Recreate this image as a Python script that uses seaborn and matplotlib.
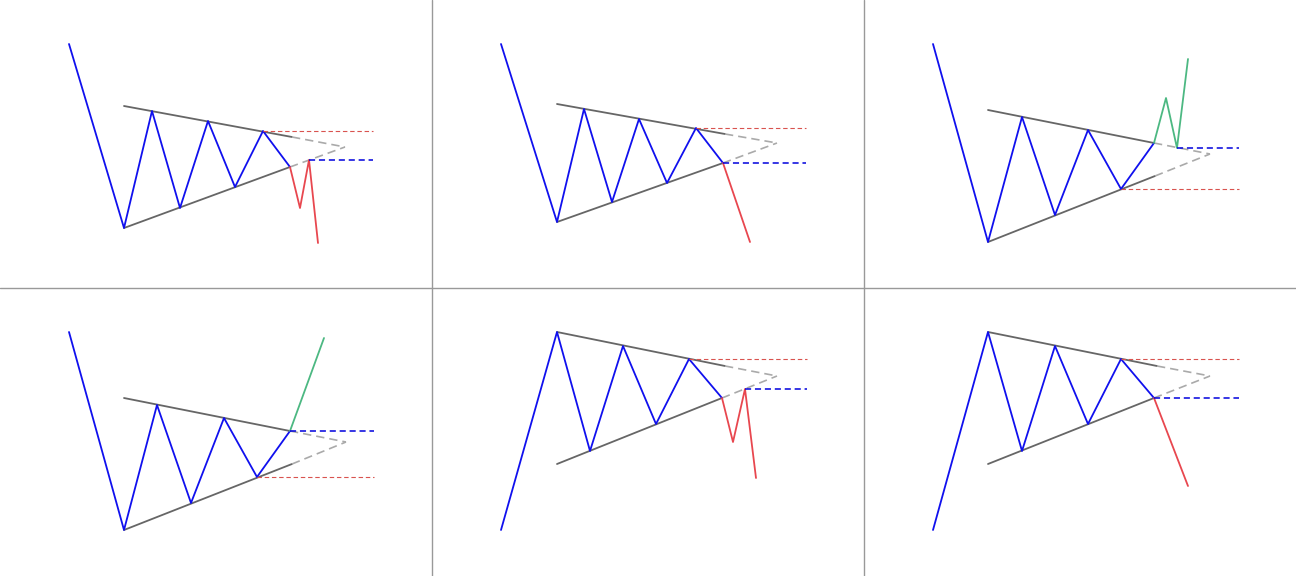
import matplotlib
matplotlib.use("Agg")
import matplotlib.pyplot as plt
import seaborn as sns

# colours
BLUE = "#1010ee"
RED = "#e8474f"
GREEN = "#4cb882"
TREND = "#666666"
EXT = "#aaaaaa"

# panel 1: descending into triangle, breakdown with retest
p1_x = [69, 124, 152, 180, 208, 235, 263, 290]
p1_y = [244, 60, 177, 80, 167, 101, 157, 121]
p1_brk_x = [290, 300, 309, 318]
p1_brk_y = [121, 80, 128, 45]
p1_up_x = [124, 292, 345]
p1_up_y = [182, 151, 141]
p1_lo_x = [124, 290, 345]
p1_lo_y = [60, 121, 141]

# panel 2: breakdown, no retest
p2_x = [69, 125, 152, 180, 207, 235, 264, 291]
p2_y = [244, 66, 179, 86, 169, 105, 160, 125]
p2_brk_x = [291, 318]
p2_brk_y = [125, 46]
p2_up_x = [125, 293, 345]
p2_up_y = [184, 154, 145]
p2_lo_x = [125, 291, 345]
p2_lo_y = [66, 125, 145]

# panel 3: breakout up with retest
p3_x = [69, 124, 158, 191, 224, 257, 290]
p3_y = [244, 46, 171, 73, 158, 99, 145]
p3_brk_x = [290, 302, 313, 324]
p3_brk_y = [145, 190, 140, 229]
p3_up_x = [124, 290, 346]
p3_up_y = [178, 145, 134]
p3_lo_x = [124, 291, 346]
p3_lo_y = [46, 112, 134]

# panel 4: breakout up, no retest
p4_x = [69, 124, 157, 191, 224, 257, 290]
p4_y = [244, 46, 171, 73, 158, 99, 145]
p4_brk_x = [290, 324]
p4_brk_y = [145, 238]
p4_up_x = [124, 290, 346]
p4_up_y = [178, 145, 134]
p4_lo_x = [124, 292, 346]
p4_lo_y = [46, 112, 134]

# panel 5: rising into triangle, breakdown with retest
p5_x = [69, 125, 158, 191, 224, 257, 290]
p5_y = [46, 244, 125, 230, 152, 217, 178]
p5_brk_x = [290, 301, 313, 324]
p5_brk_y = [178, 134, 187, 98]
p5_up_x = [125, 293, 345]
p5_up_y = [244, 210, 200]
p5_lo_x = [125, 290, 345]
p5_lo_y = [112, 178, 200]

# panel 6: rising into triangle, breakdown no retest
p6_x = [69, 124, 158, 191, 224, 257, 290]
p6_y = [46, 244, 125, 230, 152, 217, 178]
p6_brk_x = [290, 324]
p6_brk_y = [178, 90]
p6_up_x = [124, 293, 346]
p6_up_y = [244, 210, 200]
p6_lo_x = [124, 290, 346]
p6_lo_y = [112, 178, 200]

# horizontal levels: (price, x start, x end, colour)
p1_levels = [(157, 263, 373, "red"), (128, 309, 373, "blue")]
p2_levels = [(160, 264, 374, "red"), (125, 291, 374, "blue")]
p3_levels = [(140, 313, 375, "blue"), (99, 257, 375, "red")]
p4_levels = [(145, 290, 374, "blue"), (99, 257, 374, "red")]
p5_levels = [(217, 257, 375, "red"), (187, 313, 375, "blue")]
p6_levels = [(217, 257, 375, "red"), (178, 290, 375, "blue")]

panels = [
    (p1_x, p1_y, p1_brk_x, p1_brk_y, RED, p1_up_x, p1_up_y, p1_lo_x, p1_lo_y, p1_levels),
    (p2_x, p2_y, p2_brk_x, p2_brk_y, RED, p2_up_x, p2_up_y, p2_lo_x, p2_lo_y, p2_levels),
    (p3_x, p3_y, p3_brk_x, p3_brk_y, GREEN, p3_up_x, p3_up_y, p3_lo_x, p3_lo_y, p3_levels),
    (p4_x, p4_y, p4_brk_x, p4_brk_y, GREEN, p4_up_x, p4_up_y, p4_lo_x, p4_lo_y, p4_levels),
    (p5_x, p5_y, p5_brk_x, p5_brk_y, RED, p5_up_x, p5_up_y, p5_lo_x, p5_lo_y, p5_levels),
    (p6_x, p6_y, p6_brk_x, p6_brk_y, RED, p6_up_x, p6_up_y, p6_lo_x, p6_lo_y, p6_levels),
]

sns.set_style("white")

fig, axes = plt.subplots(2, 3, figsize=(12.96, 5.76), dpi=100)
fig.patch.set_facecolor("white")
fig.subplots_adjust(left=0, right=1, bottom=0, top=1, wspace=0, hspace=0)

for i, (ax, p) in enumerate(zip(axes.flat, panels)):
    x, y, bx, by, bcol, ux, uy, lx, ly, levels = p

    # trend lines: solid part then dashed extension to apex
    for tx, ty in [(ux, uy), (lx, ly)]:
        sns.lineplot(x=tx[:2], y=ty[:2], sort=False, estimator=None,
                     color=TREND, linewidth=1.3, ax=ax)
        sns.lineplot(x=tx[1:], y=ty[1:], sort=False, estimator=None,
                     color=EXT, linewidth=1.2, linestyle=(0, (5, 3)), ax=ax)

    # price path
    sns.lineplot(x=x, y=y, sort=False, estimator=None, color=BLUE,
                 linewidth=1.3, ax=ax)
    sns.lineplot(x=bx, y=by, sort=False, estimator=None, color=bcol,
                 linewidth=1.3, ax=ax)

    # horizontal levels
    for lvl, x0, x1, c in levels:
        if c == "red":
            ax.hlines(lvl, x0, x1, colors="#d9534f", linewidth=0.8,
                      linestyles=(0, (4, 2.5)))
        else:
            ax.hlines(lvl, x0, x1, colors="#0000dd", linewidth=1.1,
                      linestyles=(0, (4, 2.5)))

    ax.set_xlim(0, 432)
    ax.set_ylim(0, 288)
    ax.set_xticks([])
    ax.set_yticks([])
    ax.set_xlabel("")
    ax.set_ylabel("")
    ax.patch.set_visible(False)
    for side in ["left", "top", "right", "bottom"]:
        ax.spines[side].set_visible(False)

# panel separators
for xf in [1 / 3, 2 / 3]:
    fig.add_artist(plt.Line2D([xf, xf], [0, 1], color="#999999",
                              linewidth=1.0, transform=fig.transFigure))
fig.add_artist(plt.Line2D([0, 1], [0.5, 0.5], color="#999999",
                          linewidth=1.0, transform=fig.transFigure))

fig.savefig("out.png", dpi=100)
